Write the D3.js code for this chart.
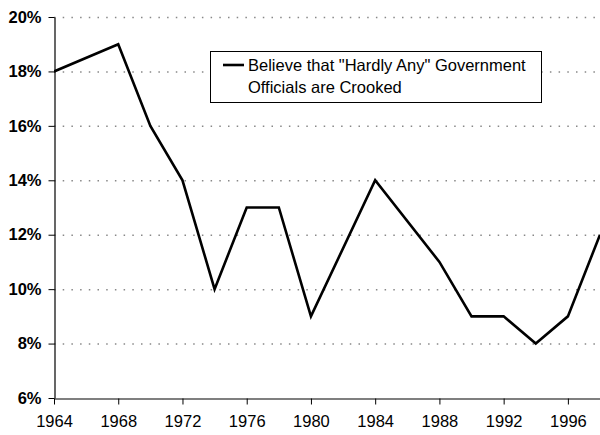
<!DOCTYPE html>
<html lang="en">
<head>
	<meta charset="UTF-8">
	<title>Hardly any officials crooked</title>
	<script src="https://d3js.org/d3.v7.min.js"></script>
	<style>
		body { margin: 0; background: #fff; }
		svg { font-family: "Liberation Sans", Arial, sans-serif; }
	</style>
</head>
<body>
	<script>

		// values
		var years = [1964, 1968, 1970, 1972, 1974, 1976, 1978, 1980, 1984, 1988, 1990, 1992, 1994, 1996, 1998];
		var hardlyAny = [18, 19, 16, 14, 10, 13, 13, 9, 14, 11, 9, 9, 8, 9, 12];
		var xTicks = [1964, 1968, 1972, 1976, 1980, 1984, 1988, 1992, 1996];
		var yTicks = [6, 8, 10, 12, 14, 16, 18, 20];
		var legendLines = ['Believe that "Hardly Any" Government', 'Officials are Crooked'];

		var w = 600, h = 435;
		// plot area (window.top is taken, so own names)
		var pLeft = 54, pTop = 17, pRight = 600, pBottom = 398;

		var svg = d3.select("body").append("svg")
			.attr("width", w)
			.attr("height", h);

		var x = d3.scaleLinear().domain([1964, 1998]).range([pLeft, pRight]);
		var y = d3.scaleLinear().domain([6, 20]).range([pBottom, pTop]);

		// dotted gridlines
		svg.append("g")
			.selectAll("line")
			.data(yTicks.filter(function(d){ return d > 6; }))
			.enter().append("line")
			.attr("x1", pLeft).attr("x2", pRight)
			.attr("y1", function(d){ return y(d) + 0.5; })
			.attr("y2", function(d){ return y(d) + 0.5; })
			.attr("stroke", "#888")
			.attr("stroke-width", 1.5)
			.attr("stroke-dasharray", "1.5,7.2");

		// y axis
		var yAxis = svg.append("g")
			.attr("transform", "translate(" + (pLeft + 0.5) + ",0)")
			.call(d3.axisLeft(y).tickValues(yTicks).tickSize(6).tickSizeOuter(0).tickPadding(7)
				.tickFormat(function(d){ return d + "%"; }));
		yAxis.select(".domain").attr("stroke", "#000").attr("stroke-width", 1.2);
		yAxis.selectAll(".tick line").attr("stroke", "#000");
		yAxis.selectAll("text")
			.attr("fill", "#000")
			.style("font-size", "16.5px")
			.style("font-weight", "bold")
			.style("font-family", "'Liberation Sans', Arial, sans-serif");

		// x axis
		var xAxis = svg.append("g")
			.attr("transform", "translate(0," + (pBottom + 0.5) + ")")
			.call(d3.axisBottom(x).tickValues(xTicks).tickSize(6).tickSizeOuter(0).tickPadding(11)
				.tickFormat(d3.format("d")));
		xAxis.select(".domain").attr("stroke", "#000").attr("stroke-width", 1.2);
		xAxis.selectAll(".tick line").attr("stroke", "#000");
		xAxis.selectAll("text")
			.attr("fill", "#000")
			.style("font-size", "16.5px")
			.style("font-family", "'Liberation Sans', Arial, sans-serif");

		// the series
		var pts = years.map(function(yr, i){ return [yr, hardlyAny[i]]; });
		svg.append("defs").append("clipPath").attr("id", "plot")
			.append("rect").attr("x", pLeft).attr("y", 0).attr("width", pRight - pLeft).attr("height", pBottom);
		svg.append("path")
			.datum(pts)
			.attr("clip-path", "url(#plot)")
			.attr("fill", "none")
			.attr("stroke", "#000")
			.attr("stroke-width", 2.6)
			.attr("stroke-linejoin", "miter")
			.attr("d", d3.line()
				.x(function(d){ return x(d[0]); })
				.y(function(d){ return y(d[1]); }));

		// legend
		var lg = svg.append("g");
		lg.append("rect")
			.attr("x", 210.5).attr("y", 51.5)
			.attr("width", 331).attr("height", 51)
			.attr("fill", "#fff")
			.attr("stroke", "#000")
			.attr("stroke-width", 1);
		lg.append("line")
			.attr("x1", 223).attr("x2", 244)
			.attr("y1", 65).attr("y2", 65)
			.attr("stroke", "#000")
			.attr("stroke-width", 2.6);
		lg.selectAll("text.leg")
			.data(legendLines)
			.enter().append("text")
			.attr("class", "leg")
			.attr("x", 248)
			.attr("y", function(d, i){ return 71 + i * 22; })
			.attr("font-size", "16.5px")
			.text(function(d){ return d; });

	</script>
</body>
</html>
